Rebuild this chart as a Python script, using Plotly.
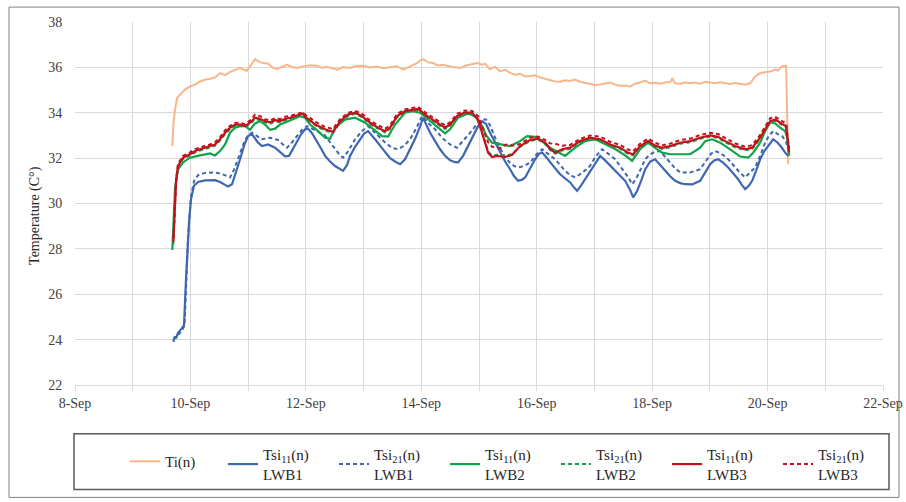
import pandas as pd
import plotly.graph_objects as go

# time in days since 8-Sep 00:00
base_date = "2021-09-08"

ti_t = [1.686, 1.707, 1.733, 1.768, 1.820, 1.906, 1.993, 2.080, 2.166, 2.253, 2.340, 2.426, 2.513, 2.600,
        2.686, 2.773, 2.860, 2.976, 3.033, 3.120, 3.206, 3.345, 3.432, 3.501, 3.605, 3.674, 3.761, 3.847,
        3.951, 4.073, 4.194, 4.281, 4.367, 4.454, 4.541, 4.645, 4.766, 4.870, 4.991, 5.113, 5.234, 5.338,
        5.459, 5.581, 5.685, 5.806, 5.927, 5.979, 6.031, 6.118, 6.205, 6.291, 6.378, 6.499, 6.672, 6.776,
        6.846, 6.967, 7.054, 7.106, 7.192, 7.279, 7.366, 7.452, 7.539, 7.626, 7.712, 7.799, 7.886, 7.972,
        8.059, 8.146, 8.232, 8.319, 8.406, 8.492, 8.579, 8.666, 8.752, 8.839, 8.925, 9.012, 9.099, 9.185,
        9.272, 9.359, 9.445, 9.532, 9.619, 9.705, 9.792, 9.879, 9.965, 10.052, 10.139, 10.225, 10.312,
        10.347, 10.399, 10.485, 10.572, 10.659, 10.745, 10.832, 10.919, 11.005, 11.092, 11.179, 11.265,
        11.352, 11.438, 11.525, 11.612, 11.698, 11.785, 11.872, 11.958, 12.045, 12.132, 12.184, 12.218,
        12.270, 12.305, 12.322, 12.357]
ti_v = [32.53, 33.57, 34.14, 34.65, 34.80, 35.02, 35.16, 35.24, 35.38, 35.46, 35.50, 35.55, 35.75, 35.66,
        35.80, 35.90, 35.97, 35.84, 36.04, 36.36, 36.22, 36.16, 35.97, 35.93, 36.04, 36.11, 36.02, 35.97,
        36.04, 36.09, 36.07, 35.98, 36.03, 35.96, 35.90, 36.01, 35.97, 36.06, 36.07, 36.00, 36.04, 35.96,
        35.99, 36.05, 35.90, 36.05, 36.19, 36.30, 36.36, 36.22, 36.19, 36.08, 36.11, 36.04, 35.97, 36.08,
        36.11, 36.19, 36.12, 36.16, 35.92, 36.03, 35.82, 35.90, 35.76, 35.68, 35.72, 35.60, 35.62, 35.65,
        35.55, 35.49, 35.46, 35.38, 35.37, 35.43, 35.40, 35.46, 35.37, 35.33, 35.28, 35.22, 35.25, 35.30,
        35.33, 35.24, 35.19, 35.20, 35.15, 35.28, 35.33, 35.42, 35.30, 35.32, 35.28, 35.33, 35.35,
        35.50, 35.30, 35.28, 35.33, 35.30, 35.33, 35.28, 35.36, 35.33, 35.30, 35.34, 35.30,
        35.27, 35.31, 35.28, 35.24, 35.30, 35.60, 35.75, 35.78, 35.82, 35.90, 35.86, 35.98,
        36.07, 36.05, 36.10, 31.73]

b1_t = [1.704, 1.733, 1.750, 1.785, 1.837, 1.889, 1.924, 1.950, 1.976, 2.010, 2.062, 2.132, 2.253, 2.426,
        2.513, 2.600, 2.652, 2.721, 2.790, 2.860, 2.929, 2.998, 3.068, 3.172, 3.241, 3.345, 3.466, 3.553,
        3.640, 3.709, 3.778, 3.847, 3.917, 3.986, 4.038, 4.107, 4.159, 4.246, 4.333, 4.419, 4.506, 4.593,
        4.645, 4.714, 4.766, 4.853, 4.939, 5.009, 5.078, 5.147, 5.199, 5.286, 5.373, 5.459, 5.546, 5.633,
        5.719, 5.806, 5.893, 5.979, 6.031, 6.100, 6.153, 6.239, 6.326, 6.412, 6.499, 6.586, 6.638, 6.724,
        6.811, 6.898, 6.984, 7.054, 7.123, 7.192, 7.279, 7.366, 7.452, 7.539, 7.608, 7.678, 7.747, 7.799,
        7.886, 7.972, 8.042, 8.094, 8.163, 8.232, 8.319, 8.406, 8.492, 8.579, 8.648, 8.700, 8.770, 8.839,
        8.925, 9.012, 9.099, 9.185, 9.272, 9.359, 9.445, 9.532, 9.619, 9.671, 9.740, 9.809, 9.879, 9.965,
        10.052, 10.139, 10.225, 10.312, 10.399, 10.485, 10.572, 10.693, 10.832, 10.919, 11.005, 11.075,
        11.144, 11.230, 11.317, 11.404, 11.490, 11.560, 11.612, 11.681, 11.733, 11.802, 11.872, 11.941,
        12.010, 12.097, 12.166, 12.236, 12.305, 12.357]
b1_v = [23.90, 24.15, 24.05, 24.30, 24.45, 24.64, 26.69, 28.15, 29.17, 30.20, 30.78, 30.95, 31.02, 31.03,
        30.95, 30.82, 30.75, 30.85, 31.35, 31.95, 32.55, 32.97, 33.05, 32.68, 32.53, 32.60, 32.46, 32.25,
        32.08, 32.10, 32.40, 32.75, 33.05, 33.27, 33.30, 33.10, 32.85, 32.50, 32.10, 31.85, 31.65, 31.50,
        31.44, 31.70, 32.10, 32.50, 32.83, 33.08, 33.19, 33.00, 32.83, 32.55, 32.25, 32.00, 31.85, 31.73,
        31.95, 32.40, 32.85, 33.40, 33.78, 33.40, 33.12, 32.75, 32.39, 32.10, 31.90, 31.82, 31.81, 32.10,
        32.53, 33.00, 33.41, 33.63, 33.50, 33.12, 32.70, 32.25, 31.85, 31.51, 31.20, 31.00, 31.05, 31.15,
        31.55, 31.95, 32.20, 32.25, 32.05, 31.81, 31.55, 31.29, 31.10, 30.93, 30.70, 30.56, 30.80, 31.07,
        31.45, 31.80, 32.10, 31.90, 31.66, 31.45, 31.22, 31.00, 30.60, 30.27, 30.55, 31.00, 31.50, 31.85,
        31.95, 31.70, 31.44, 31.20, 31.00, 30.90, 30.85, 30.84, 31.00, 31.35, 31.73, 31.90,
        31.95, 31.80, 31.59, 31.33, 31.07, 30.80, 30.63, 30.80, 31.00, 31.45, 31.95, 32.30,
        32.53, 32.83, 32.70, 32.50, 32.24, 32.10]

b2_t = [1.707, 1.750, 1.802, 1.854, 1.898, 1.929, 1.955, 1.981, 2.010, 2.062, 2.132, 2.253, 2.426, 2.547,
        2.686, 2.756, 2.860, 2.946, 3.016, 3.068, 3.137, 3.241, 3.380, 3.518, 3.605, 3.674, 3.761, 3.847,
        3.934, 4.021, 4.107, 4.211, 4.333, 4.419, 4.506, 4.593, 4.645, 4.731, 4.853, 4.974, 5.078, 5.182,
        5.286, 5.390, 5.494, 5.598, 5.702, 5.806, 5.910, 6.014, 6.118, 6.239, 6.360, 6.499, 6.620, 6.724,
        6.846, 6.949, 7.054, 7.123, 7.192, 7.279, 7.366, 7.452, 7.539, 7.608, 7.678, 7.782, 7.886, 7.990,
        8.094, 8.198, 8.319, 8.406, 8.492, 8.579, 8.666, 8.787, 8.925, 9.029, 9.133, 9.237, 9.359, 9.445,
        9.532, 9.601, 9.653, 9.723, 9.809, 9.879, 9.965, 10.052, 10.139, 10.225, 10.312, 10.399, 10.485,
        10.659, 10.832, 10.936, 11.023, 11.092, 11.196, 11.317, 11.421, 11.525, 11.612, 11.698, 11.785,
        11.872, 11.958, 12.028, 12.097, 12.184, 12.253, 12.322, 12.357]
b2_v = [24.00, 24.20, 24.25, 24.40, 24.62, 26.80, 28.30, 29.35, 30.30, 31.00, 31.25, 31.35, 31.37, 31.30,
        31.15, 31.50, 32.20, 32.80, 33.05, 33.12, 33.00, 32.83, 32.90, 32.80, 32.60, 32.46, 32.70, 32.97,
        33.25, 33.41, 33.30, 33.15, 33.00, 32.70, 32.39, 32.12, 32.02, 32.30, 32.83, 33.20, 33.41, 33.15,
        32.90, 32.65, 32.45, 32.39, 32.55, 32.83, 33.30, 33.85, 33.55, 33.27, 32.90, 32.60, 32.46, 32.75,
        33.12, 33.45, 33.70, 33.70, 33.45, 32.90, 32.45, 32.02, 31.80, 31.65, 31.59, 31.65, 31.80, 32.15,
        32.39, 32.20, 31.95, 31.70, 31.44, 31.25, 31.15, 31.35, 31.66, 32.10, 32.39, 32.20, 31.95, 31.65,
        31.37, 31.10, 30.85, 31.10, 31.55, 31.95, 32.17, 32.28, 32.31, 32.05, 31.81, 31.55, 31.37,
        31.37, 31.51, 31.90, 32.20, 32.31, 32.20, 31.95, 31.65, 31.35, 31.15, 31.35, 31.59,
        32.10, 32.68, 33.00, 33.19, 33.05, 32.97, 32.70, 32.39]

g1_t = [1.686, 1.716, 1.733, 1.759, 1.785, 1.872, 1.993, 2.166, 2.340, 2.426, 2.513, 2.600, 2.686, 2.773,
        2.860, 2.946, 3.033, 3.120, 3.206, 3.293, 3.380, 3.466, 3.553, 3.692, 3.813, 3.899, 3.986, 4.073,
        4.211, 4.333, 4.419, 4.506, 4.679, 4.853, 5.026, 5.199, 5.321, 5.425, 5.546, 5.719, 5.841, 5.979,
        6.153, 6.326, 6.412, 6.499, 6.638, 6.811, 6.932, 7.054, 7.123, 7.227, 7.366, 7.539, 7.712, 7.834,
        7.972, 8.094, 8.232, 8.406, 8.492, 8.666, 8.839, 9.012, 9.185, 9.359, 9.532, 9.653, 9.792, 9.931,
        10.052, 10.173, 10.312, 10.659, 10.832, 10.919, 11.040, 11.179, 11.352, 11.525, 11.664, 11.750,
        11.872, 11.958, 12.045, 12.132, 12.218, 12.305, 12.340, 12.374]
g1_v = [27.95, 29.61, 30.63, 31.15, 31.51, 31.81, 32.02, 32.12, 32.21, 32.12, 32.31, 32.60, 33.12, 33.34,
        33.41, 33.41, 33.25, 33.53, 33.63, 33.48, 33.25, 33.30, 33.48, 33.63, 33.78, 33.85, 33.78, 33.48,
        33.19, 32.90, 32.85, 33.34, 33.70, 33.78, 33.56, 33.19, 32.97, 32.95, 33.48, 34.00, 34.07, 34.00,
        33.63, 33.27, 33.09, 33.27, 33.78, 33.97, 33.85, 33.41, 33.00, 32.68, 32.60, 32.53, 32.75, 32.97,
        32.94, 32.75, 32.46, 32.24, 32.10, 32.46, 32.75, 32.83, 32.60, 32.40, 32.12, 31.88, 32.40, 32.68,
        32.45, 32.24, 32.17, 32.17, 32.46, 32.75, 32.83, 32.68, 32.39, 32.07, 32.02, 32.24,
        32.68, 33.19, 33.58, 33.53, 33.34, 33.19, 32.90, 32.10]

r1_t = [1.704, 1.724, 1.742, 1.750, 1.785, 1.872, 1.993, 2.080, 2.166, 2.253, 2.340, 2.426, 2.513, 2.600,
        2.686, 2.773, 2.860, 2.946, 3.033, 3.120, 3.206, 3.293, 3.380, 3.466, 3.553, 3.640, 3.726, 3.813,
        3.899, 3.951, 4.003, 4.073, 4.159, 4.246, 4.333, 4.471, 4.593, 4.731, 4.853, 4.974, 5.113, 5.251,
        5.373, 5.459, 5.581, 5.719, 5.841, 5.945, 6.066, 6.187, 6.326, 6.412, 6.499, 6.620, 6.759, 6.880,
        6.984, 7.071, 7.158, 7.227, 7.314, 7.452, 7.574, 7.712, 7.886, 8.024, 8.146, 8.232, 8.319, 8.440,
        8.579, 8.752, 8.925, 9.099, 9.272, 9.445, 9.584, 9.671, 9.792, 9.931, 10.052, 10.173, 10.312,
        10.485, 10.659, 10.832, 11.005, 11.144, 11.265, 11.438, 11.612, 11.733, 11.872, 11.958, 12.045,
        12.132, 12.218, 12.322, 12.374]
r1_v = [28.30, 29.63, 30.50, 30.93, 31.66, 32.02, 32.17, 32.31, 32.39, 32.46, 32.53, 32.60, 32.83, 33.12,
        33.34, 33.48, 33.48, 33.41, 33.56, 33.78, 33.73, 33.63, 33.58, 33.67, 33.63, 33.73, 33.78, 33.85,
        33.92, 33.97, 33.78, 33.67, 33.48, 33.38, 33.27, 33.15, 33.63, 33.92, 34.00, 33.85, 33.56, 33.34,
        33.19, 33.34, 33.85, 34.07, 34.14, 34.17, 33.92, 33.70, 33.48, 33.34, 33.48, 33.85, 34.02, 34.00,
        33.70, 32.97, 32.24, 32.05, 32.10, 32.05, 32.15, 32.53, 32.80, 32.86, 32.68, 32.40, 32.24, 32.39,
        32.46, 32.75, 32.90, 32.83, 32.60, 32.46, 32.24, 32.17, 32.53, 32.75, 32.55, 32.45, 32.53,
        32.68, 32.75, 32.90, 33.00, 32.94, 32.75, 32.53, 32.39, 32.46, 32.90, 33.27, 33.63,
        33.70, 33.56, 33.40, 32.25]

g2_t = r1_t
g2_v = [28.20, 29.55, 30.45, 30.88, 31.60, 31.96, 32.12, 32.25, 32.33, 32.41, 32.47, 32.55, 32.77, 33.06,
        33.28, 33.42, 33.43, 33.36, 33.50, 33.72, 33.68, 33.58, 33.52, 33.61, 33.58, 33.67, 33.72, 33.80,
        33.86, 33.92, 33.73, 33.61, 33.43, 33.32, 33.22, 33.10, 33.57, 33.86, 33.95, 33.80, 33.50, 33.29,
        33.13, 33.29, 33.80, 34.01, 34.08, 34.12, 33.86, 33.65, 33.43, 33.28, 33.43, 33.80, 33.96, 33.94,
        33.65, 32.92, 32.30, 32.10, 32.15, 32.10, 32.18, 32.50, 32.76, 32.82, 32.63, 32.36, 32.20, 32.34,
        32.41, 32.70, 32.85, 32.78, 32.55, 32.41, 32.19, 32.12, 32.48, 32.70, 32.50, 32.40, 32.48,
        32.63, 32.70, 32.85, 32.95, 32.89, 32.70, 32.48, 32.34, 32.41, 32.85, 33.22, 33.58,
        33.65, 33.51, 33.35, 32.20]

r2_t = [1.707, 1.733, 1.750, 1.785, 1.872, 1.993, 2.080, 2.166, 2.253, 2.340, 2.426, 2.513, 2.600, 2.686,
        2.773, 2.860, 2.946, 3.033, 3.120, 3.206, 3.293, 3.380, 3.466, 3.553, 3.640, 3.726, 3.813, 3.899,
        3.951, 4.003, 4.073, 4.159, 4.246, 4.333, 4.471, 4.593, 4.731, 4.853, 4.974, 5.113, 5.251, 5.373,
        5.459, 5.581, 5.719, 5.841, 5.945, 6.066, 6.187, 6.326, 6.412, 6.499, 6.620, 6.759, 6.880, 6.984,
        7.071, 7.158, 7.227, 7.366, 7.470, 7.574, 7.712, 7.886, 8.024, 8.146, 8.232, 8.336, 8.440, 8.579,
        8.752, 8.925, 9.099, 9.272, 9.445, 9.584, 9.671, 9.792, 9.931, 10.052, 10.173, 10.312, 10.485,
        10.659, 10.832, 11.005, 11.144, 11.265, 11.438, 11.612, 11.733, 11.872, 11.958, 12.045, 12.132,
        12.218, 12.322, 12.374]
r2_v = [28.45, 30.20, 31.05, 31.75, 32.10, 32.25, 32.40, 32.46, 32.55, 32.60, 32.70, 32.92, 33.22, 33.42,
        33.55, 33.56, 33.50, 33.66, 33.92, 33.85, 33.72, 33.66, 33.75, 33.72, 33.82, 33.86, 33.93, 34.00,
        34.02, 33.88, 33.78, 33.60, 33.50, 33.38, 33.28, 33.72, 34.00, 34.08, 33.95, 33.66, 33.45, 33.30,
        33.44, 33.95, 34.15, 34.22, 34.25, 34.02, 33.80, 33.58, 33.45, 33.58, 33.95, 34.10, 34.08, 33.85,
        33.30, 32.70, 32.50, 32.45, 32.60, 32.55, 32.62, 32.90, 32.95, 32.80, 32.65, 32.62, 32.55, 32.58,
        32.85, 33.00, 32.95, 32.72, 32.58, 32.38, 32.30, 32.64, 32.86, 32.68, 32.56, 32.64, 32.80,
        32.86, 33.02, 33.12, 33.06, 32.88, 32.65, 32.50, 32.57, 33.02, 33.40, 33.76, 33.82,
        33.68, 33.52, 32.35]

names = ["Ti(n)",
         "Tsi<sub>11</sub>(n)<br>LWB1", "Tsi<sub>21</sub>(n)<br>LWB1",
         "Tsi<sub>11</sub>(n)<br>LWB2", "Tsi<sub>21</sub>(n)<br>LWB2",
         "Tsi<sub>11</sub>(n)<br>LWB3", "Tsi<sub>21</sub>(n)<br>LWB3"]
colors = ["#F8B68A", "#3F67B1", "#3F67B1", "#10A34A", "#10A34A", "#C3111C", "#C3111C"]
dashes = ["solid", "solid", "4px,3px", "solid", "4px,3px", "solid", "4px,3px"]
widths = [2, 2.2, 2, 2.2, 2, 2.2, 2]
legends = ["legend2", "legend", "legend", "legend", "legend", "legend", "legend"]
series = [(ti_t, ti_v), (b1_t, b1_v), (b2_t, b2_v), (g1_t, g1_v), (g2_t, g2_v), (r1_t, r1_v), (r2_t, r2_v)]

base = pd.Timestamp(base_date)
fig = go.Figure()
for (t, v), nm, c, d, w, lg in zip(series, names, colors, dashes, widths, legends):
    x = base + pd.to_timedelta(pd.Series(t), unit="D")
    fig.add_trace(go.Scatter(x=x, y=v, mode="lines", name=nm, legend=lg,
                             line=dict(color=c, width=w, dash=d), legendwidth=66))

serif = "Liberation Serif, Times New Roman, serif"
grid = "#D9D9D9"
leg_common = dict(orientation="h", xanchor="left", yanchor="middle",
                  font=dict(family=serif, size=15, color="#262626"),
                  bgcolor="rgba(0,0,0,0)", borderwidth=0, itemwidth=30)
fig.update_layout(
    width=906, height=502,
    margin=dict(l=75, r=23, t=22, b=115),
    paper_bgcolor="white", plot_bgcolor="white",
    font=dict(family=serif, size=14, color="#404040"),
    showlegend=True,
    legend=dict(x=(223 - 75) / 808, y=(387 - 466.5) / 365, **leg_common),
    legend2=dict(x=(125 - 75) / 808, y=(387 - 464) / 365, **leg_common),
    xaxis=dict(type="date", range=["2021-09-08", "2021-09-22"],
               tick0="2021-09-08", dtick=2 * 86400000, tickformat="%-d-%b",
               showgrid=True, gridcolor=grid, gridwidth=1,
               showline=True, linecolor=grid, linewidth=1,
               ticks="outside", ticklen=5, tickcolor=grid,
               minor=dict(dtick=86400000, showgrid=True, gridcolor=grid,
                          ticks="outside", ticklen=5, tickcolor=grid),
               tickfont=dict(family=serif, size=14, color="#404040"),
               zeroline=False, automargin=False),
    yaxis=dict(range=[22, 38], dtick=2, tick0=22,
               showgrid=True, gridcolor=grid, gridwidth=1,
               ticks="outside", ticklen=9, tickcolor="rgba(0,0,0,0)",
               tickfont=dict(family=serif, size=14, color="#404040"),
               zeroline=False, showline=False, automargin=False),
    annotations=[dict(text="Temperature (C°)", xref="paper", yref="paper",
                      x=(35 - 75) / 808, y=(387 - 217) / 365, xanchor="center", yanchor="middle",
                      textangle=-90, showarrow=False,
                      font=dict(family=serif, size=14, color="#262626"))],
    shapes=[
        dict(type="rect", xref="paper", yref="paper",
             x0=(9 - 75) / 808, x1=(899 - 75) / 808, y0=(387 - 500) / 365, y1=(387 - 7) / 365,
             line=dict(color="#808080", width=1), fillcolor="rgba(0,0,0,0)", layer="below"),
        dict(type="rect", xref="paper", yref="paper",
             x0=(74 - 75) / 808, x1=(889 - 75) / 808, y0=(387 - 492) / 365, y1=(387 - 436) / 365,
             line=dict(color="#595959", width=1.5), fillcolor="rgba(0,0,0,0)"),
    ],
)
fig.write_html("out.html")
